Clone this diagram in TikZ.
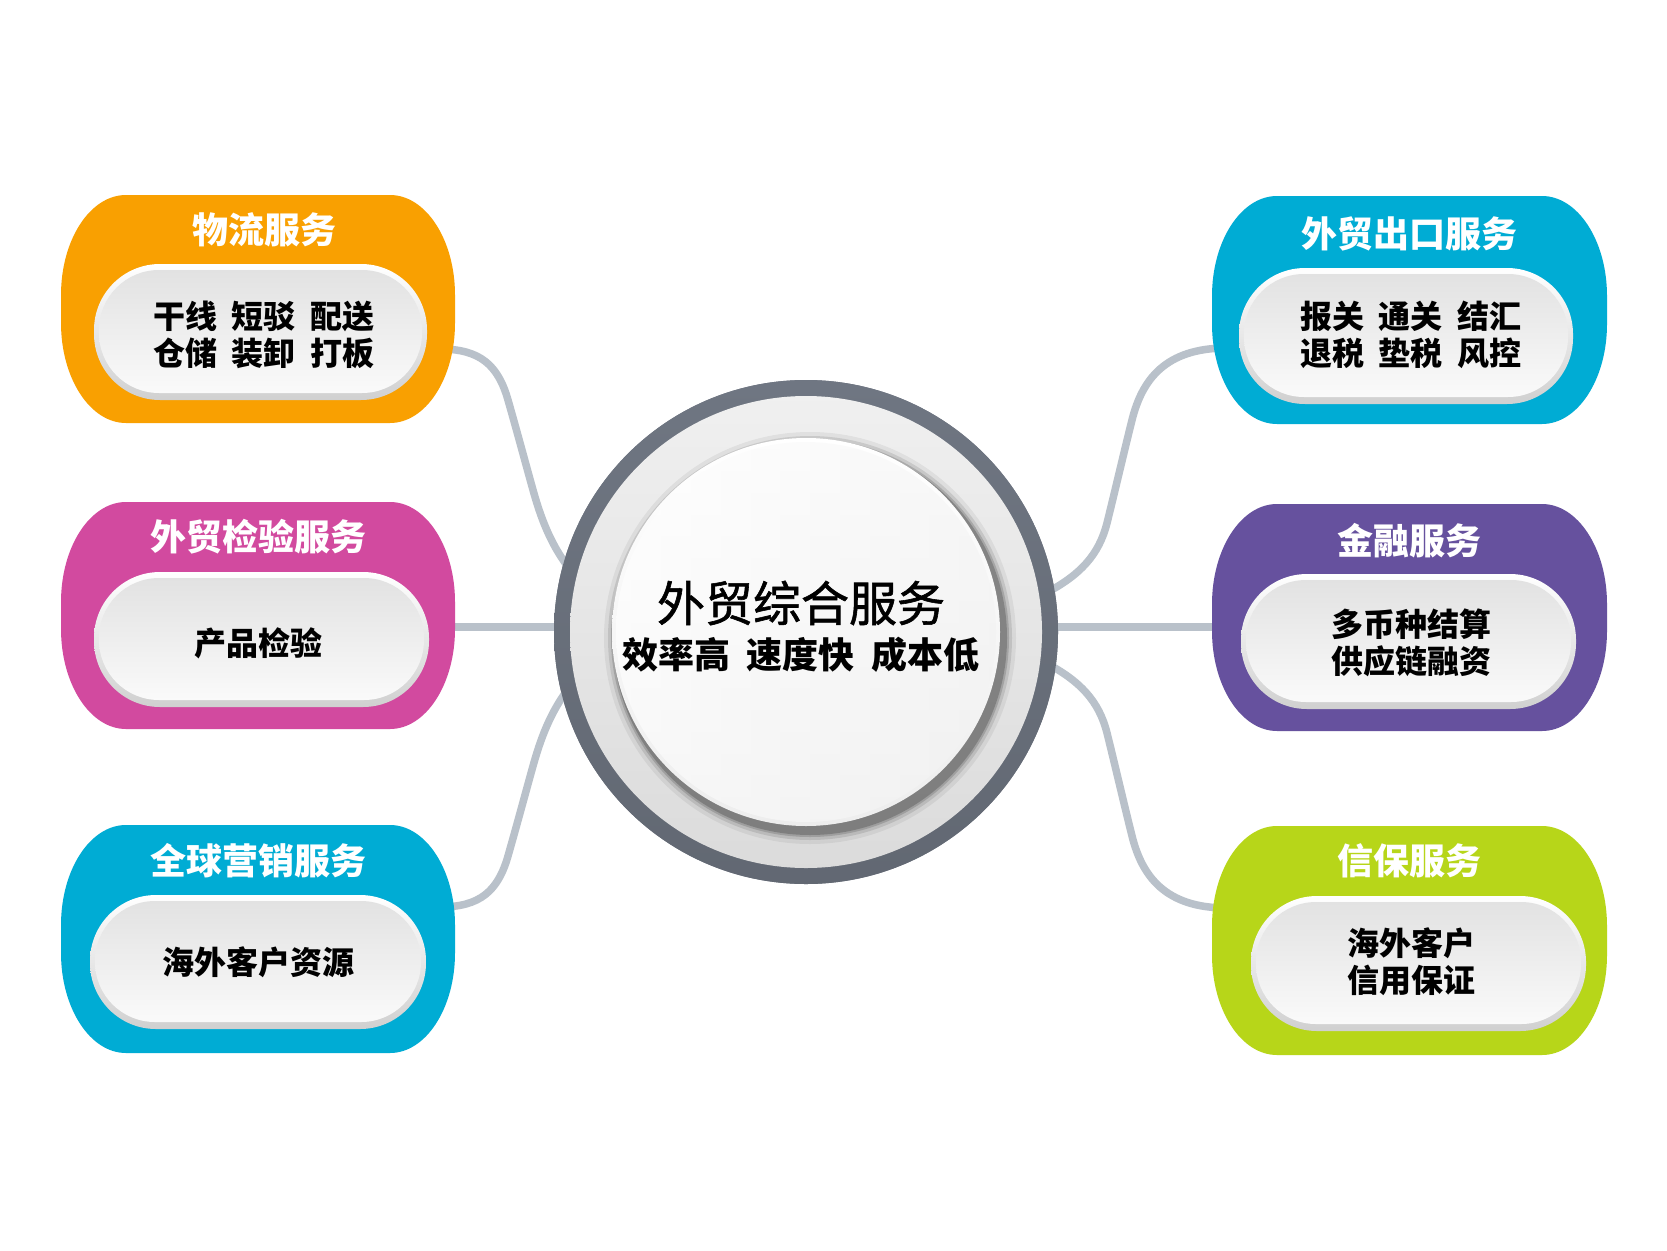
\documentclass[tikz,border=0pt]{standalone}
\usepackage{fontspec}
\usetikzlibrary{calc}
\newfontfamily\cjk{Noto Sans CJK SC}
\newfontfamily\cjkmed[FakeBold=1.2]{Noto Sans CJK SC}
\definecolor{orangeb}{HTML}{F9A001}
\definecolor{magb}{HTML}{D24A9F}
\definecolor{cyanb}{HTML}{00ACD4}
\definecolor{purpb}{HTML}{66519E}
\definecolor{greenb}{HTML}{B7D619}
\definecolor{connc}{HTML}{B9C1CA}
\definecolor{ringd}{HTML}{6F7682}
\definecolor{rimc}{HTML}{D0D0D0}
\definecolor{pillt}{HTML}{E2E2E2}
\definecolor{pillb}{HTML}{FAFAFA}
\newcommand\svbox[5]{%
  \fill[#5] ({#1+65},#2) -- ({#3-65},#2)
    .. controls ({#3-29},#2) and (#3,{#2+45}) .. (#3,{#2+100})
    -- (#3,{#4-100})
    .. controls (#3,{#4-45}) and ({#3-29},#4) .. ({#3-65},#4)
    -- ({#1+65},#4)
    .. controls ({#1+29},#4) and (#1,{#4-45}) .. (#1,{#4-100})
    -- (#1,{#2+100})
    .. controls (#1,{#2+45}) and ({#1+29},#2) .. ({#1+65},#2) -- cycle;}
\newcommand\svpill[4]{%
  \shade[top color=white, bottom color=rimc, rounded corners=66pt] (#1,#2) rectangle (#3,#4);
  \shade[top color=pillt, bottom color=pillb, rounded corners=60pt] ({#1+5},{#2+6}) rectangle ({#3-5},{#4-7});}
\newcommand\gap{\hspace{0.45em}}
\begin{document}
\begin{tikzpicture}[x=1pt,y=-1pt,
  conn/.style={line width=7.5pt, draw=connc},
  ttl/.style={text=white, font=\cjk\bfseries\fontsize{36}{40}\selectfont, inner sep=0pt},
  body/.style={text=black, font=\cjk\bfseries\fontsize{32}{37}\selectfont, align=center, inner sep=0pt},
]
\fill[white] (0,0) rectangle (1667,1250);
\useasboundingbox (0,0) rectangle (1667,1250);

% hub node
\node[circle, minimum size=504pt, inner sep=0pt, fill=ringd] (hub) at (806,632) {};

% connector end points
\coordinate (lA) at (440,349);  \coordinate (lAe) at (572,572);
\coordinate (lB) at (440,627);  \coordinate (lBe) at (565,627);
\coordinate (lC) at (440,907);  \coordinate (lCe) at (572,684);
\coordinate (rA) at (1227,348); \coordinate (rAe) at (1046,593);
\coordinate (rB) at (1227,627); \coordinate (rBe) at (1047,627);
\coordinate (rC) at (1227,908); \coordinate (rCe) at (1046,663);

% connectors
\draw[conn] (lA) .. controls (480,349) and (498,365) .. (508,400)
  .. controls (518,435) and (526,465) .. (533,490)
  .. controls (540,515) and (550,545) .. (lAe);
\draw[conn] (lB) -- (lBe);
\draw[conn] (lC) .. controls (480,907) and (498,891) .. (508,856)
  .. controls (518,821) and (526,791) .. (533,766)
  .. controls (540,741) and (550,711) .. (lCe);
\draw[conn] (rA) .. controls (1165,348) and (1142,380) .. (1132,420)
  .. controls (1124,452) and (1114,495) .. (1107,523)
  .. controls (1099,555) and (1080,575) .. (rAe);
\draw[conn] (rB) -- (rBe);
\draw[conn] (rC) .. controls (1165,908) and (1142,876) .. (1132,836)
  .. controls (1124,804) and (1114,761) .. (1107,733)
  .. controls (1099,701) and (1080,681) .. (rCe);

% hub drawing over connectors
\shade[top color=ringd, bottom color=ringd!88!black] (hub.center) circle[radius=252];
\shade[top color=white!94!black, bottom color=white!86!black] (hub.center) circle[radius=236];
\foreach \r/\o in {206/0.06,202/0.10,199/0.15,197/0.2}{
  \fill[black, opacity=\o] ($(hub.center)+(4,6)$) circle[radius=\r];}
\shade[top color=white, bottom color=white!93!black] (hub.center) circle[radius=194];
\shade[left color=white, right color=white!95!black, opacity=0.6] (hub.center) circle[radius=190];
\node[font=\cjkmed\fontsize{48}{52}\selectfont, inner sep=0pt] (ht) at (801,603) {外贸综合服务};
\node[font=\cjk\bfseries\fontsize{36}{40}\selectfont, inner sep=0pt] (hs) at (801,655) {效率高\gap 速度快\gap 成本低};

% left boxes
\svbox{61}{195}{455}{423}{orangeb}
\svpill{94}{264}{427}{400}
\node[ttl] (t1) at (264,230) {物流服务};
\node[body] (b1) at (264,334.5) {干线\gap 短驳\gap 配送\\仓储\gap 装卸\gap 打板};

\svbox{61}{502}{455}{729}{magb}
\svpill{94}{572}{429}{707}
\node[ttl] (t2) at (258,537) {外贸检验服务};
\node[body] (b2) at (258,643) {产品检验};

\svbox{61}{825}{455}{1053}{cyanb}
\svpill{90}{895}{426}{1029}
\node[ttl] (t3) at (258,861) {全球营销服务};
\node[body] (b3) at (258,962) {海外客户资源};

% right boxes
\svbox{1212}{196}{1607}{424}{cyanb}
\svpill{1239}{268}{1573}{404}
\node[ttl] (t4) at (1409,234) {外贸出口服务};
\node[body] (b4) at (1411,334.5) {报关\gap 通关\gap 结汇\\退税\gap 垫税\gap 风控};

\svbox{1212}{504}{1607}{731}{purpb}
\svpill{1241}{574}{1576}{709}
\node[ttl] (t5) at (1409,541) {金融服务};
\node[body] (b5) at (1411,642.5) {多币种结算\\供应链融资};

\svbox{1212}{826}{1607}{1055}{greenb}
\svpill{1251}{896}{1586}{1031}
\node[ttl] (t6) at (1409,861) {信保服务};
\node[body] (b6) at (1411,961.5) {海外客户\\信用保证};
\end{tikzpicture}
\end{document}
